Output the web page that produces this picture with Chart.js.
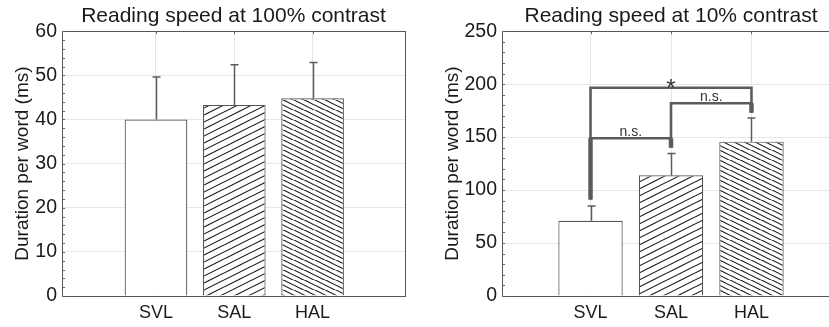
<!DOCTYPE html>
<html>
<head>
<meta charset="utf-8">
<script src="https://cdn.jsdelivr.net/npm/chart.js@4.4.1/dist/chart.umd.min.js"></script>
<style>
	html, body { margin: 0; padding: 0; background: #fff; overflow: hidden; width: 829px; height: 327px; }
	#left { position: absolute; left: 0; top: 0; width: 415px; height: 327px; }
	#right { position: absolute; left: 415px; top: 0; width: 435px; height: 327px; }
</style>
</head>
<body>
<div id="left"><canvas id="chart-100"></canvas></div>
<div id="right"><canvas id="chart-10"></canvas></div>
<script>
// conditions, placed at x = 2, 3, 4 on a linear axis
var categories = ['SVL', 'SAL', 'HAL'];
var catPos = [2, 3, 4];

// 100% contrast: mean and upper error (ms)
var mean100 = [40.0, 43.3, 44.8];
var err100 = [9.6, 9.1, 8.1];

// 10% contrast
var mean10 = [71.1, 113.9, 145.7];
var err10 = [13.8, 20.7, 22.3];

// y axes
var yMax100 = 60, yStep100 = 10, yMinor100 = 2;
var yMax10 = 250, yStep10 = 50, yMinor10 = 10;

// significance brackets (10% contrast chart)
var sigPairs = [[0, 1], [1, 2], [0, 2]];
var sigLevel = [149, 182, 196.6];
var sigLegEnds = [[91, 140], [149, 173], [91, 182]];
var sigLabels = ['n.s.', 'n.s.', '*'];

var FONT = "'Liberation Sans', Arial, Helvetica, sans-serif";
var INK = '#1a1a1a';
var LINE = '#5c5c5c';

function hatch(step, dir) {
	var w = step * 4, h = step * 2;
	var c = document.createElement('canvas');
	c.width = w; c.height = h;
	var ctx = c.getContext('2d');
	ctx.fillStyle = '#fff';
	ctx.fillRect(0, 0, w, h);
	ctx.strokeStyle = '#161616';
	ctx.lineWidth = 1.1;
	for (var k = -2; k <= 2; k++) {
		ctx.beginPath();
		if (dir > 0) {
			ctx.moveTo(0, h + k * step);
			ctx.lineTo(w, k * step);
		} else {
			ctx.moveTo(0, k * step);
			ctx.lineTo(w, h + k * step);
		}
		ctx.stroke();
	}
	return ctx.createPattern(c, 'repeat');
}

var fills = ['#ffffff', hatch(7, 1), hatch(5.25, -1)];

var framePlugin = {
	id: 'frame',
	afterDraw: function(chart) {
		var a = chart.chartArea, ctx = chart.ctx;
		var y = chart.scales.y, x = chart.scales.x;
		var minor = chart.options.plugins.frame.minor;
		ctx.save();
		ctx.strokeStyle = '#555';
		ctx.lineWidth = 1;
		ctx.strokeRect(Math.round(a.left) + 0.5, Math.round(a.top) + 0.5,
			Math.round(a.right - a.left), Math.round(a.bottom - a.top));
		ctx.strokeStyle = '#666';
		ctx.beginPath();
		for (var v = 0; v <= y.max; v += minor) {
			var py = Math.round(y.getPixelForValue(v)) + 0.5;
			ctx.moveTo(a.left, py);
			ctx.lineTo(a.left + 3, py);
		}
		catPos.forEach(function(p) {
			var px = Math.round(x.getPixelForValue(p)) + 0.5;
			ctx.moveTo(px, a.top);
			ctx.lineTo(px, a.top + 3);
		});
		ctx.stroke();
		ctx.restore();
	}
};

var errorBarPlugin = {
	id: 'errorBars',
	afterDatasetsDraw: function(chart) {
		var opts = chart.options.plugins.errorBars;
		var x = chart.scales.x, y = chart.scales.y, ctx = chart.ctx;
		ctx.save();
		ctx.strokeStyle = LINE;
		ctx.lineWidth = 1.5;
		opts.means.forEach(function(m, i) {
			var px = Math.round(x.getPixelForValue(catPos[i])) + 0.5;
			var y0 = y.getPixelForValue(m);
			var y1 = y.getPixelForValue(m + opts.errs[i]);
			ctx.beginPath();
			ctx.moveTo(px, y0);
			ctx.lineTo(px, y1);
			ctx.moveTo(px - 4, y1);
			ctx.lineTo(px + 4, y1);
			ctx.stroke();
		});
		ctx.restore();
	}
};

var sigLabelPlugin = {
	id: 'sigLabels',
	afterDatasetsDraw: function(chart) {
		if (!chart.options.plugins.sigLabels.show) return;
		var x = chart.scales.x, y = chart.scales.y, ctx = chart.ctx;
		ctx.save();
		ctx.fillStyle = '#333';
		ctx.textAlign = 'center';
		ctx.textBaseline = 'alphabetic';
		sigPairs.forEach(function(pair, i) {
			var mid = (x.getPixelForValue(catPos[pair[0]]) + x.getPixelForValue(catPos[pair[1]])) / 2;
			var py = y.getPixelForValue(sigLevel[i]);
			if (sigLabels[i] === '*') {
				ctx.font = '24px ' + FONT;
				ctx.fillText(sigLabels[i], mid, py + 8);
			} else {
				ctx.font = '14px ' + FONT;
				ctx.fillText(sigLabels[i], mid, py - 2);
			}
		});
		ctx.restore();
	}
};

function barData(means) {
	return means.map(function(m, i) { return { x: catPos[i], y: m }; });
}

function bracketDatasets() {
	var sets = [];
	sigPairs.forEach(function(pair, i) {
		var xa = catPos[pair[0]], xb = catPos[pair[1]];
		sets.push({
			type: 'line',
			data: [
				{ x: xa, y: sigLegEnds[i][0] },
				{ x: xa, y: sigLevel[i] },
				{ x: xb, y: sigLevel[i] },
				{ x: xb, y: sigLegEnds[i][1] }
			],
			borderColor: LINE,
			borderWidth: 2.6,
			borderJoinStyle: 'miter',
			pointRadius: 0,
			fill: false,
			order: 0
		});
	});
	// heavier legs where the brackets leave the bars
	var thick = [[0, 0], [0, 1], [1, 1]];
	thick.forEach(function(t) {
		var i = t[0], side = t[1];
		var xp = catPos[sigPairs[i][side]];
		sets.push({
			type: 'line',
			data: [{ x: xp, y: sigLegEnds[i][side] }, { x: xp, y: sigLevel[i] }],
			borderColor: LINE,
			borderWidth: 4.5,
			pointRadius: 0,
			fill: false,
			order: 0
		});
	});
	return sets;
}

function makeChart(id, cfg) {
	var datasets = [{
		type: 'bar',
		data: barData(cfg.means),
		backgroundColor: fills,
		borderColor: '#555',
		borderWidth: 1.2,
		barPercentage: 0.8,
		categoryPercentage: 1,
		order: 1
	}];
	if (cfg.brackets) datasets = datasets.concat(bracketDatasets());

	return new Chart(document.getElementById(id), {
		type: 'bar',
		data: { datasets: datasets },
		plugins: [framePlugin, errorBarPlugin, sigLabelPlugin],
		options: {
			responsive: true,
			maintainAspectRatio: false,
			animation: false,
			layout: { padding: { top: 0, right: 10, bottom: 0, left: 0 } },
			plugins: {
				legend: { display: false },
				tooltip: { enabled: false },
				title: {
					display: true,
					text: cfg.title,
					fullSize: false,
					color: INK,
					font: { family: FONT, size: 21, weight: 'normal' },
					padding: { top: 4, bottom: 2 }
				},
				frame: { minor: cfg.yMinor },
				errorBars: { means: cfg.means, errs: cfg.errs },
				sigLabels: { show: !!cfg.brackets }
			},
			scales: {
				x: {
					type: 'linear',
					offset: false,
					min: cfg.xMin,
					max: cfg.xMax,
					afterBuildTicks: function(s) { s.ticks = catPos.map(function(v) { return { value: v }; }); },
					afterFit: function(s) { s.height = 31; },
					ticks: {
						autoSkip: false,
						maxRotation: 0,
						padding: 6,
						color: INK,
						font: { family: FONT, size: 18 },
						callback: function(v) { return categories[catPos.indexOf(v)]; }
					},
					grid: { color: '#e6e6e6', drawTicks: false, offset: false },
					border: { color: '#555' }
				},
				y: {
					min: 0,
					max: cfg.yMax,
					afterFit: function(s) { s.width = cfg.yWidth; },
					ticks: {
						stepSize: cfg.yStep,
						padding: 5,
						color: INK,
						font: { family: FONT, size: 19.5 }
					},
					title: {
						display: true,
						text: 'Duration per word (ms)',
						color: INK,
						font: { family: FONT, size: 19 },
						padding: { top: cfg.titlePad, bottom: 0 }
					},
					grid: { color: '#e6e6e6', drawTicks: false },
					border: { color: '#555' }
				}
			}
		}
	});
}

makeChart('chart-100', {
	title: 'Reading speed at 100% contrast',
	means: mean100, errs: err100,
	yMax: yMax100, yStep: yStep100, yMinor: yMinor100,
	xMin: 0.8, xMax: 5.18,
	yWidth: 62, titlePad: 11
});

makeChart('chart-10', {
	title: 'Reading speed at 10% contrast',
	means: mean10, errs: err10,
	yMax: yMax10, yStep: yStep10, yMinor: yMinor10,
	xMin: 0.9, xMax: 5.1,
	yWidth: 87, titlePad: 26,
	brackets: true
});
</script>
</body>
</html>
